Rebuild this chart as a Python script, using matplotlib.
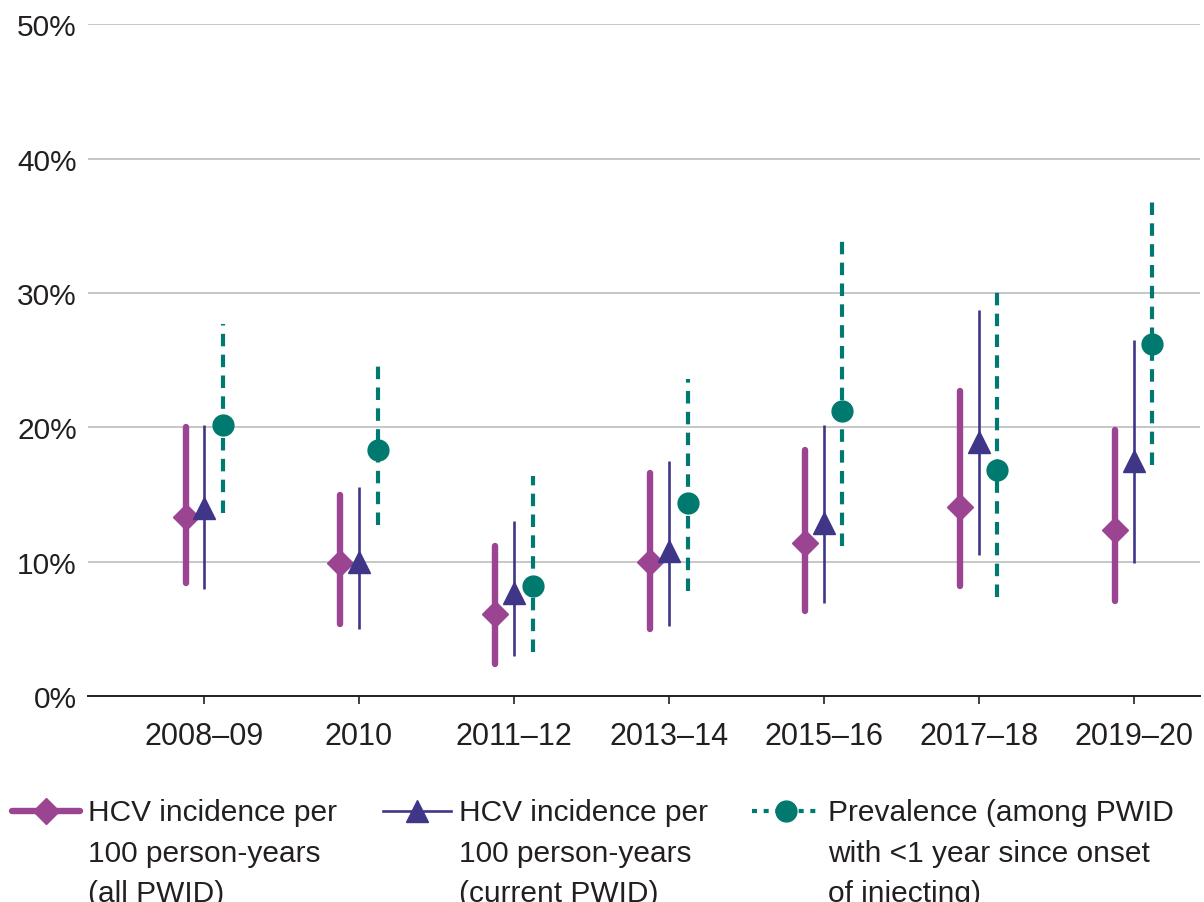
import matplotlib.pyplot as plt
import numpy as np
from matplotlib.lines import Line2D

plt.rcParams['font.family'] = ['Liberation Sans', 'DejaVu Sans']

periods = ["2008\u201309", "2010", "2011\u201312", "2013\u201314", "2015\u201316", "2017\u201318", "2019\u201320"]

# HCV incidence per 100 person-years (all PWID)
inc_all = [13.3, 9.9, 6.1, 10.0, 11.4, 14.1, 12.4]
inc_all_lo = [8.4, 5.4, 2.4, 5.0, 6.3, 8.2, 7.1]
inc_all_hi = [20.0, 15.0, 11.2, 16.6, 18.3, 22.7, 19.8]

# HCV incidence per 100 person-years (current PWID)
inc_cur = [14.0, 10.0, 7.7, 10.8, 12.9, 18.9, 17.5]
inc_cur_lo = [8.0, 5.0, 3.0, 5.2, 6.9, 10.5, 9.9]
inc_cur_hi = [20.2, 15.6, 13.0, 17.5, 20.2, 28.7, 26.5]

# Prevalence among PWID with <1 year since onset of injecting
prev = [20.2, 18.3, 8.2, 14.4, 21.2, 16.8, 26.2]
prev_lo = [13.6, 12.7, 3.3, 7.8, 11.2, 7.4, 17.2]
prev_hi = [27.7, 25.1, 16.4, 23.6, 34.0, 30.4, 36.8]

labels = ["HCV incidence per\n100 person-years\n(all PWID)",
          "HCV incidence per\n100 person-years\n(current PWID)",
          "Prevalence (among PWID\nwith <1 year since onset\nof injecting)"]

purple = "#9B4592"
indigo = "#3F3687"
teal = "#00796F"
text_col = "#231F20"

W, H = 1204, 903
fig = plt.figure(figsize=(W / 100, H / 100), dpi=100)
ax = fig.add_axes([0.073, 0.228, 0.924, 0.744])

x = np.arange(len(periods))
off = 0.12

lc = ax.vlines(x - off, inc_all_lo, inc_all_hi, color=purple, lw=4.6, zorder=2)
lc.set_capstyle('round')
ax.plot(x - off, inc_all, 'D', color=purple, ms=13, zorder=3)

ax.vlines(x, inc_cur_lo, inc_cur_hi, color=indigo, lw=1.9, zorder=2)
ax.plot(x, inc_cur, '^', color=indigo, ms=16, zorder=3)

lc = ax.vlines(x + off, prev_lo, prev_hi, color=teal, lw=3, linestyles=(0, (3, 2)), zorder=2)
lc.set_capstyle('butt')
ax.plot(x + off, prev, 'o', color=teal, ms=15, zorder=3)

ax.set_xlim(-0.75, 6.43)
ax.set_ylim(0, 50)
ax.set_yticks(np.arange(0, 51, 10))
ax.set_yticklabels([f"{v}%" for v in range(0, 51, 10)])
ax.set_xticks(x)
ax.set_xticklabels(periods)
ax.yaxis.grid(True, color="#BDBDBD", lw=1.2)
ax.set_axisbelow(True)
for s in ["left", "right", "top"]:
    ax.spines[s].set_visible(False)
ax.spines["bottom"].set_color(text_col)
ax.spines["bottom"].set_linewidth(1.4)
ax.tick_params(axis="y", length=0, pad=8, labelsize=21.5, labelcolor=text_col)
ax.tick_params(axis="x", length=6, width=1.2, color=text_col, pad=12, labelsize=22, labelcolor=text_col)

# legend drawn by hand so the keys sit level with the first line of text
handle_styles = [
    dict(color=purple, lw=4.6, marker='D', ms=13, solid_capstyle='round'),
    dict(color=indigo, lw=1.9, marker='^', ms=16),
    dict(color=teal, lw=3, ls=(0, (1.2, 1.6)), marker='o', ms=15),
]
leg_x = [12, 383, 752]
key_w = 68
key_y = 812
for lx, style, lab in zip(leg_x, handle_styles, labels):
    xs = np.array([lx, lx + key_w / 2, lx + key_w]) / W
    ys = np.full(3, 1 - key_y / H)
    fig.add_artist(Line2D(xs, ys, transform=fig.transFigure, markevery=[1], **style))
    fig.text((lx + key_w + 8) / W, 1 - 799 / H, lab, fontsize=21.5, color=text_col,
             ha="left", va="top", linespacing=1.57)

fig.savefig("out.png", dpi=100)
